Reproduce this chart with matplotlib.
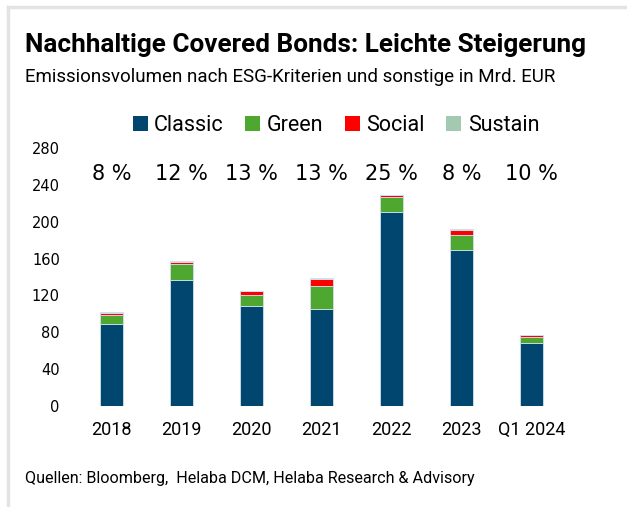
import numpy as np
import matplotlib
matplotlib.use('Agg')
import matplotlib.pyplot as plt
from matplotlib.patches import Patch
from matplotlib.lines import Line2D

# Data (Mrd. EUR)
years = ['2018', '2019', '2020', '2021', '2022', '2023', 'Q1 2024']
classic = [89, 137, 109, 105, 210, 169, 68]
green = [10, 17, 11, 25, 16.5, 16.5, 7]
social = [1.5, 2, 4.5, 8, 2, 6, 2]
sustain = [1, 1, 0.5, 1, 0.8, 0.5, 0.5]
shares = ['8 %', '12 %', '13 %', '13 %', '25 %', '8 %', '10 %']

series_names = ['Classic', 'Green', 'Social', 'Sustain']
series_colors = ['#00466E', '#4EA72E', '#FF0000', '#A3C9B1']

narrow = ['Roboto', 'DejaVu Sans']

fig = plt.figure(figsize=(6.27, 5.07), dpi=100)
ax = fig.add_axes([0.122, 0.1992, 0.7815, 0.5089])

x = np.arange(len(years))
bottom = np.zeros(len(years))
for vals, col in zip([classic, green, social, sustain], series_colors):
    ax.bar(x, vals, width=0.33, bottom=bottom, color=col,
           edgecolor='#cfe0ee', linewidth=0.6)
    bottom = bottom + np.array(vals)

# share labels above the bars
for xi, s in zip(x, shares):
    ax.text(xi, 252, s, ha='center', va='center', fontsize=15,
            family='DejaVu Sans', clip_on=False)

ax.set_xlim(-0.5, len(years) - 0.5)
ax.set_ylim(0, 280)
ax.set_yticks(np.arange(0, 281, 40))
ax.set_xticks(x)
ax.set_xticklabels(years, family=narrow, fontsize=13)
ax.tick_params(axis='y', length=0, pad=12, labelsize=10.5)
ax.tick_params(axis='x', length=0, pad=11)
for sp in ax.spines.values():
    sp.set_visible(False)

# titles
fig.text(25 / 627, 1 - 45 / 507, 'Nachhaltige Covered Bonds: Leichte Steigerung',
         fontsize=18.8, fontweight='bold', family=narrow, va='center', ha='left')
fig.text(25 / 627, 1 - 77 / 507, 'Emissionsvolumen nach ESG-Kriterien und sonstige in Mrd. EUR',
         fontsize=13.5, family=narrow, va='center', ha='left')
fig.text(25 / 627, 1 - 478 / 507, 'Quellen: Bloomberg,  Helaba DCM, Helaba Research & Advisory',
         fontsize=11.6, family=narrow, va='center', ha='left')

# legend
handles = [Patch(facecolor=c, edgecolor='none') for c in series_colors]
fig.legend(handles, series_names, loc='center', bbox_to_anchor=(336 / 627, 1 - 126 / 507),
           ncol=4, frameon=False, handlelength=0.7, handleheight=0.7,
           handletextpad=0.3, columnspacing=1.0, prop={'family': narrow, 'size': 15.5})

# light frame on top and left
fig.add_artist(Line2D([8 / 627, 1], [1 - 7 / 507, 1 - 7 / 507], color='#e3e3e3', lw=2.5))
fig.add_artist(Line2D([8 / 627, 8 / 627], [0, 1 - 7 / 507], color='#e3e3e3', lw=2.5))

fig.savefig('out.png', dpi=100)
